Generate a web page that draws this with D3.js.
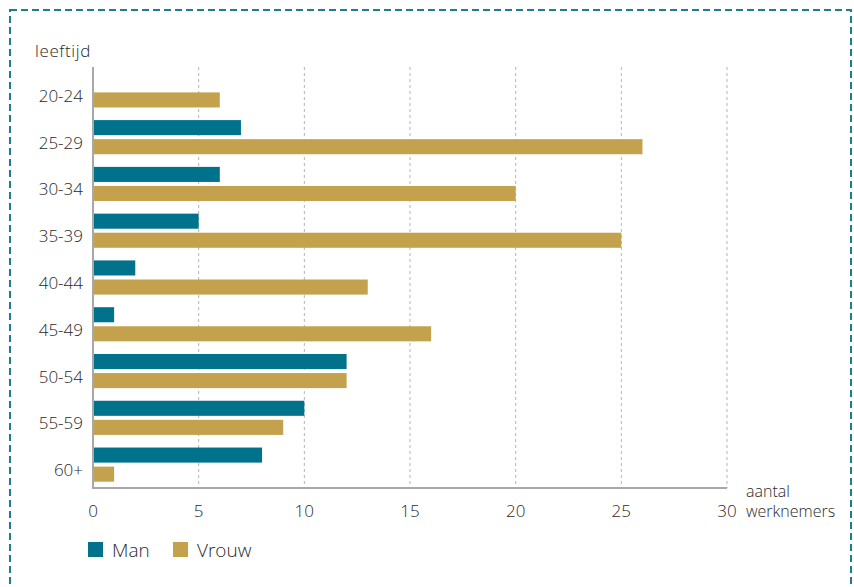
<!DOCTYPE html>
<html>
<head>
<meta charset="utf-8">
<script src="https://cdn.jsdelivr.net/npm/d3@7"></script>
<style>
  html, body { margin: 0; padding: 0; background: #fff; }
  svg { display: block; }
  text { font-family: "Open Sans", "Noto Sans", sans-serif; fill: #2a2a2a; font-weight: 300; }
</style>
</head>
<body>
<svg id="chart" width="854" height="587"></svg>
<script>
const categories = ["20-24", "25-29", "30-34", "35-39", "40-44", "45-49", "50-54", "55-59", "60+"];
const seriesNames = ["Man", "Vrouw"];
const manValues = [0, 7, 6, 5, 2, 1, 12, 10, 8];
const vrouwValues = [6, 26, 20, 25, 13, 16, 12, 9, 1];
const xTicks = [0, 5, 10, 15, 20, 25, 30];
const colors = { Man: "#00728C", Vrouw: "#C4A24D" };

const data = categories.map((c, i) => ({ cat: c, Man: manValues[i], Vrouw: vrouwValues[i] }));

const svg = d3.select("#chart");

// dashed frame
svg.append("rect")
  .attr("x", 10).attr("y", 10).attr("width", 841).attr("height", 590)
  .attr("fill", "none").attr("stroke", "#1E7E90").attr("stroke-width", 2)
  .attr("stroke-dasharray", "7,4");

const mLeft = 93, mRight = 727, mTop = 67, mBottom = 488;
const x = d3.scaleLinear().domain([0, 30]).range([mLeft, mRight]);
const y = d3.scaleBand().domain(categories).range([mTop, mBottom]).paddingInner(0.27).paddingOuter(0.135);
const ySub = d3.scaleBand().domain(seriesNames).range([0, y.bandwidth()]).paddingInner(0.21);

// grid lines
svg.append("g").selectAll("line").data(xTicks.filter(t => t > 0)).join("line")
  .attr("x1", d => x(d)).attr("x2", d => x(d))
  .attr("y1", mTop).attr("y2", mBottom)
  .attr("stroke", "#b5b5b5").attr("stroke-width", 1).attr("stroke-dasharray", "3,3");

// bars
const groups = svg.append("g").selectAll("g").data(data).join("g")
  .attr("transform", d => `translate(0,${y(d.cat)})`);
groups.selectAll("rect").data(d => seriesNames.map(s => ({ s, v: d[s] }))).join("rect")
  .attr("x", x(0))
  .attr("y", d => ySub(d.s))
  .attr("width", d => x(d.v) - x(0))
  .attr("height", ySub.bandwidth())
  .attr("fill", d => colors[d.s]);

// axes lines
svg.append("line").attr("x1", mLeft).attr("x2", mLeft).attr("y1", mTop).attr("y2", mBottom + 1)
  .attr("stroke", "#a8a8a8").attr("stroke-width", 2);
svg.append("line").attr("x1", mLeft - 1).attr("x2", mRight).attr("y1", mBottom).attr("y2", mBottom)
  .attr("stroke", "#a8a8a8").attr("stroke-width", 2);

// x tick labels
svg.append("g").selectAll("text").data(xTicks).join("text")
  .attr("x", d => x(d)).attr("y", 517)
  .attr("text-anchor", "middle").attr("font-size", 17)
  .text(d => d);

// category labels
svg.append("g").selectAll("text").data(categories).join("text")
  .attr("x", 83)
  .attr("y", d => y(d) + ySub("Vrouw") + ySub.bandwidth() / 2 + 2)
  .attr("text-anchor", "end").attr("font-size", 17)
  .text(d => d);

// axis titles
svg.append("text").attr("x", 35).attr("y", 57).attr("font-size", 17).attr("letter-spacing", 0.6).text("leeftijd");
svg.append("text").attr("x", 746).attr("y", 497).attr("font-size", 16).text("aantal");
svg.append("text").attr("x", 746).attr("y", 517).attr("font-size", 16).text("werknemers");

// legend
const legend = svg.append("g");
const legendX = [88, 173];
seriesNames.forEach((s, i) => {
  legend.append("rect").attr("x", legendX[i]).attr("y", 542).attr("width", 15).attr("height", 15).attr("fill", colors[s]);
  legend.append("text").attr("x", legendX[i] + 24).attr("y", 557).attr("font-size", 19).text(s);
});
</script>
</body>
</html>
